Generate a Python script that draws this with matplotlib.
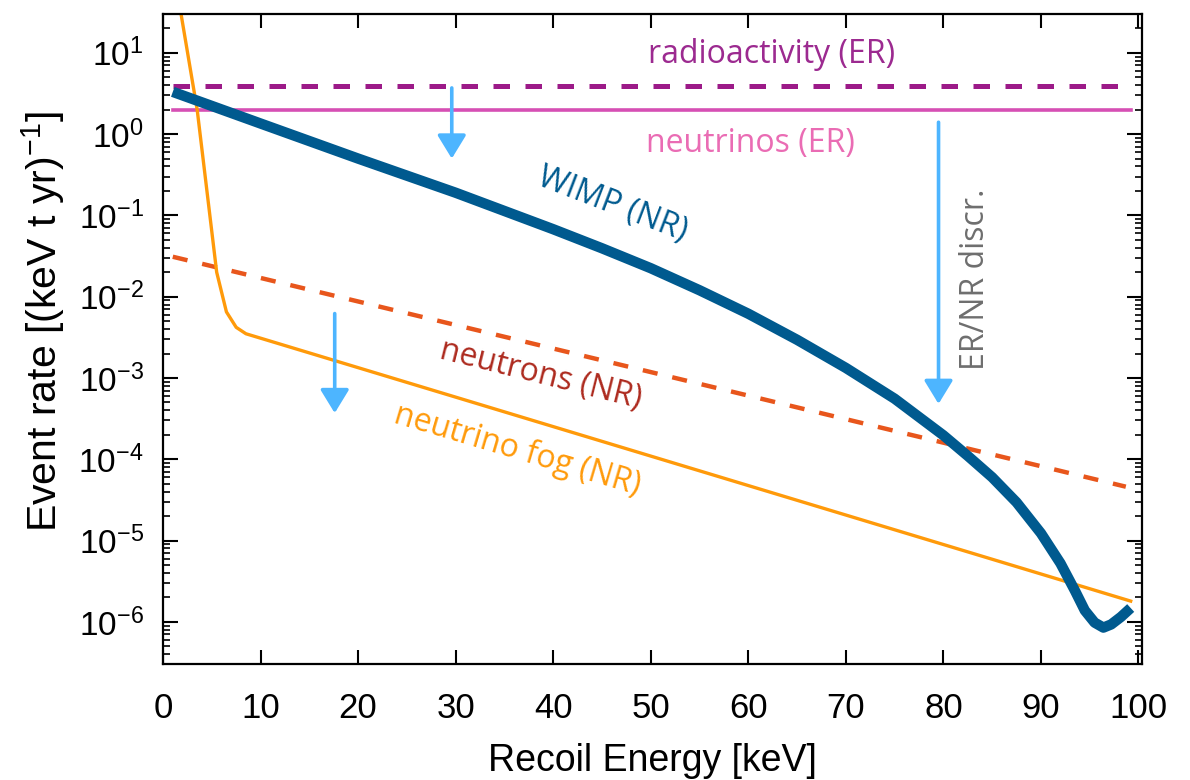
import numpy as np
import matplotlib
matplotlib.use("Agg")
import matplotlib.pyplot as plt

# data
wimp_x = [1.0, 10.0, 20.0, 30.0, 40.0, 45.0, 50.0, 55.0, 60.0, 65.0, 70.0, 75.0,
          80.0, 82.5, 85.0, 87.5, 90.0, 92.0, 93.5, 94.5, 95.5, 96.4, 97.2, 98.2, 99.2]
wimp_y = [3.31, 1.35, 0.50, 0.19, 0.0676, 0.0394, 0.0224, 0.0120, 0.00617, 0.00295,
          0.00133, 5.56e-4, 1.97e-4, 1.1e-4, 6.0e-5, 2.95e-5, 1.23e-5, 5.25e-6,
          2.4e-6, 1.38e-6, 9.8e-7, 8.5e-7, 9.3e-7, 1.15e-6, 1.48e-6]

fog_x = [1.6, 3.5, 5.5, 6.5, 7.5, 8.5, 99.2]
fog_y = [45.0, 2.0, 0.02, 0.0065, 0.0042, 0.0035, 1.8e-6]

neutron_x = [1.0, 98.7]
neutron_y = [0.031, 4.6e-5]

er_x = [1.0, 99.2]
radio_level = 3.9
nu_er_level = 2.0

# arrows: (x, y_start, y_end)
arrows = [(29.6, 3.7, 0.5), (17.6, 0.0062, 3.7e-4), (79.5, 1.4, 4.8e-4)]

y_ticks = [1e-6, 1e-5, 1e-4, 1e-3, 1e-2, 1e-1, 1e0, 1e1]
x_ticks = [0, 10, 20, 30, 40, 50, 60, 70, 80, 90, 100]

plt.rcParams['font.family'] = ['Liberation Sans', 'DejaVu Sans']
plt.rcParams['mathtext.fontset'] = 'custom'
plt.rcParams['mathtext.rm'] = 'Liberation Sans'
plt.rcParams['mathtext.it'] = 'Liberation Sans:italic'
plt.rcParams['mathtext.default'] = 'regular'

fig = plt.figure(figsize=(11.9, 7.8), dpi=100)
ax = fig.add_axes([0.137, 0.149, 0.823, 0.833])

ax.plot(er_x, [radio_level, radio_level], color='#9c1a88', lw=3.6, dashes=(3.3, 3.1))
ax.plot(er_x, [nu_er_level, nu_er_level], color='#d64fb4', lw=2.6)
ax.plot(neutron_x, neutron_y, color='#e8561c', lw=3.2, dashes=(3.4, 3.4))
ax.plot(fog_x, fog_y, color='#ff9a0a', lw=2.4, solid_joinstyle='round')
ax.plot(wimp_x, wimp_y, color='#005a8f', lw=7.5, solid_capstyle='butt',
        solid_joinstyle='round')

for xa, y0, y1 in arrows:
    ax.annotate('', xy=(xa, y1), xytext=(xa, y0),
                arrowprops=dict(arrowstyle='-|>,head_length=0.9,head_width=0.55',
                                color='#4db5ff', lw=2.6, mutation_scale=16,
                                shrinkA=0, shrinkB=0))

lab = ['Open Sans', 'DejaVu Sans']
fs = 23
ax.text(62.4, 9.45, 'radioactivity (ER)', color='#9c2a90', fontsize=fs,
        ha='center', va='center', family=lab)
ax.text(60.2, 0.776, 'neutrinos (ER)', color='#ea6cb4', fontsize=fs,
        ha='center', va='center', family=lab)
ax.text(46.1, 0.136, 'WIMP (NR)', color='#005a8f', fontsize=fs,
        ha='center', va='center', rotation=-21, family=lab)
ax.text(38.7, 1.1e-3, 'neutrons (NR)', color='#ad2a1e', fontsize=fs,
        ha='center', va='center', rotation=-14, family=lab)
ax.text(36.3, 1.3e-4, 'neutrino fog (NR)', color='#ff9a0a', fontsize=fs,
        ha='center', va='center', rotation=-16.5, family=lab)
ax.text(83.3, 0.0163, 'ER/NR discr.', color='#6e6e6e', fontsize=fs,
        ha='center', va='center', rotation=90, family=lab)

ax.set_yscale('log')
ax.set_xlim(0, 100.4)
ax.set_ylim(3.05e-7, 30)
ax.set_xticks(x_ticks)
ax.set_yticks(y_ticks)
ax.yaxis.set_minor_locator(matplotlib.ticker.LogLocator(base=10, subs=np.arange(2, 10), numticks=15))
ax.yaxis.set_minor_formatter(matplotlib.ticker.NullFormatter())

ax.tick_params(which='major', direction='in', length=11, width=1.5,
               top=True, right=True)
ax.tick_params(which='minor', direction='in', length=5, width=1.2,
               top=False, right=True)
ax.tick_params(axis='x', which='major', length=10, pad=20, labelsize=25)
ax.tick_params(axis='y', which='major', pad=14, labelsize=24)
for s in ax.spines.values():
    s.set_linewidth(1.6)

ax.set_xlabel('Recoil Energy [keV]', fontsize=27, labelpad=13)
ax.set_ylabel('Event rate [(keV t yr)$^{-1}$]', fontsize=29.5)
ax.yaxis.set_label_coords(-0.098, 0.526)

fig.savefig('out.png', dpi=100)
